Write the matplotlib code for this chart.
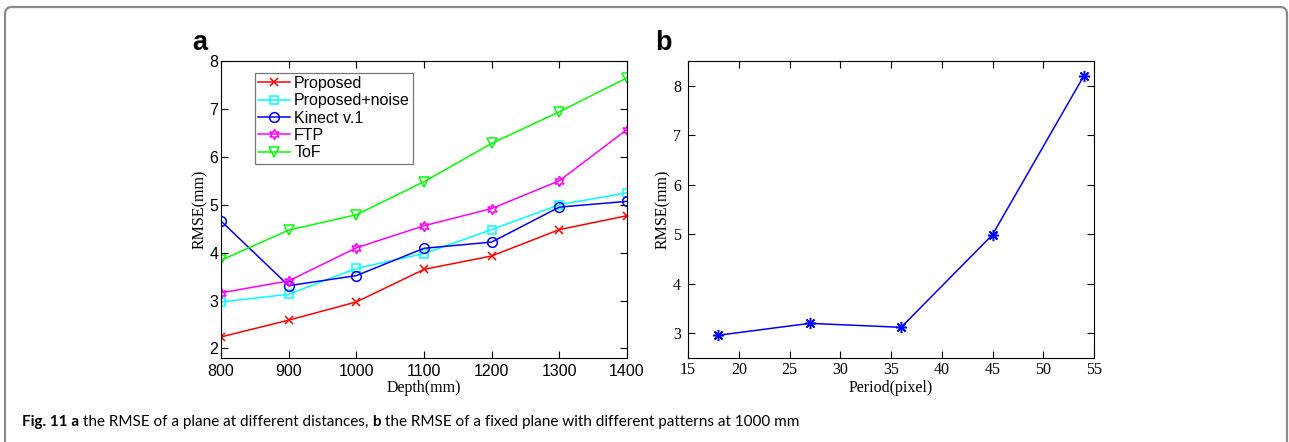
import matplotlib
matplotlib.use("Agg")
import matplotlib.pyplot as plt
from matplotlib.patches import FancyBboxPatch

# ---- data ----
depth = [800, 900, 1000, 1100, 1200, 1300, 1400]
proposed = [2.24, 2.59, 2.97, 3.65, 3.93, 4.48, 4.77]
proposed_noise = [2.97, 3.13, 3.67, 3.98, 4.48, 5.00, 5.25]
kinect = [4.66, 3.31, 3.52, 4.09, 4.22, 4.95, 5.07]
ftp = [3.16, 3.41, 4.10, 4.56, 4.92, 5.50, 6.57]
tof = [3.84, 4.47, 4.79, 5.48, 6.28, 6.94, 7.65]
series_names = ["Proposed", "Proposed+noise", "Kinect v.1", "FTP", "ToF"]

period = [18, 27, 36, 45, 54]
rmse_period = [2.96, 3.20, 3.12, 4.99, 8.20]

W, H = 1289, 442
fig = plt.figure(figsize=(W / 100, H / 100), dpi=100)

def px_axes(l, t, r, b):
    return fig.add_axes([l / W, 1 - b / H, (r - l) / W, (b - t) / H])

# border (inches, small rounded corner)
border = FancyBboxPatch((0.05, -0.5), 12.82, (H - 7) / 100 + 0.5,
                        boxstyle="round,pad=0,rounding_size=0.07",
                        transform=fig.dpi_scale_trans, fill=False,
                        edgecolor="#8a8a8a", linewidth=1.6, clip_on=False)
fig.patches.append(border)

serif = "Liberation Serif"
sans = "Liberation Sans"

# ---- panel a ----
axa = px_axes(221, 61, 627, 358)
styles = [
    (proposed, "#ff0000", "x", 6),
    (proposed_noise, "#00ffff", "s", 5.5),
    (kinect, "#0000ff", "o", 7),
    (ftp, "#ff00ff", (6, 1, 0), 7.5),
    (tof, "#00ff00", "v", 7.5),
]
for (vals, col, mk, ms), name in zip(styles, series_names):
    axa.plot(depth, vals, color=col, marker=mk, markersize=ms,
             markerfacecolor="none", markeredgecolor=col, linewidth=1.1,
             markeredgewidth=1.1, label=name)
axa.set_xlim(800, 1400)
axa.set_ylim(1.8, 8)
axa.set_xticks(depth)
axa.set_yticks([2, 3, 4, 5, 6, 7, 8])
axa.tick_params(direction="in", top=True, right=True, length=5, width=0.8,
                labelsize=11.5)
axa.tick_params(axis="x", pad=4)
axa.tick_params(axis="y", pad=2)
for lab in axa.get_xticklabels() + axa.get_yticklabels():
    lab.set_fontfamily(sans)
axa.set_xlabel("Depth(mm)", fontfamily=serif, fontsize=11.5)
axa.set_ylabel("RMSE(mm)", fontfamily=serif, fontsize=11.5)
axa.xaxis.set_label_coords(0.5, -0.1)
axa.xaxis.label.set_va("center")
axa.yaxis.set_label_coords(-0.052, 0.5)
axa.yaxis.label.set_va("center")
leg = axa.legend(loc="upper left", bbox_to_anchor=(0.084, 0.961),
                 prop={"family": sans, "size": 11.5}, frameon=True, fancybox=False,
                 edgecolor="#555555", handlelength=2.0, handletextpad=0.25,
                 labelspacing=0.15, borderpad=0.2, borderaxespad=0)
leg.get_frame().set_linewidth(0.9)
for sp in axa.spines.values():
    sp.set_linewidth(0.8)
fig.text(192 / W, 1 - 50 / H, "a", fontfamily=sans, fontweight="bold",
         fontsize=19.5, va="baseline", ha="left")

# ---- panel b ----
axb = px_axes(688, 61, 1094, 358)
axb.plot(period, rmse_period, color="#0000ff", marker=(8, 2, 0), markersize=8,
         linewidth=1.1, markeredgewidth=1.1)
axb.set_xlim(15, 55)
axb.set_ylim(2.5, 8.5)
axb.set_xticks([15, 20, 25, 30, 35, 40, 45, 50, 55])
axb.set_yticks([3, 4, 5, 6, 7, 8])
axb.tick_params(direction="in", top=True, right=True, length=5, width=0.8,
                labelsize=11.5)
axb.tick_params(axis="x", pad=3)
axb.tick_params(axis="y", pad=5)
for lab in axb.get_xticklabels() + axb.get_yticklabels():
    lab.set_fontfamily(serif)
axb.set_xlabel("Period(pixel)", fontfamily=serif, fontsize=11.5)
axb.set_ylabel("RMSE(mm)", fontfamily=serif, fontsize=11.5)
axb.xaxis.set_label_coords(0.5, -0.1)
axb.xaxis.label.set_va("center")
axb.yaxis.set_label_coords(-0.062, 0.5)
axb.yaxis.label.set_va("center")
for sp in axb.spines.values():
    sp.set_linewidth(0.8)
fig.text(655 / W, 1 - 50 / H, "b", fontfamily=sans, fontweight="bold",
         fontsize=19.5, va="baseline", ha="left")

# ---- caption ----
cap_font = "Lato"
cap_size = 11
cap_y = 1 - 426 / H
parts = [("Fig. 11 a", "bold"), ("the RMSE of a plane at different distances,", "normal"),
         ("b", "bold"), ("the RMSE of a fixed plane with different patterns at 1000 mm", "normal")]
x = 22
for txt, wt in parts:
    t = fig.text(x / W, cap_y, txt, fontfamily=cap_font, fontweight=wt,
                 fontsize=cap_size, va="baseline", ha="left")
    fig.canvas.draw()
    bb = t.get_window_extent()
    x = bb.x1 + 4

fig.savefig("out.png", dpi=100)
